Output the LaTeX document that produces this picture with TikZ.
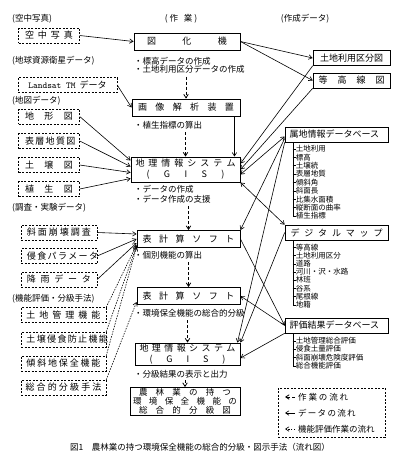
\documentclass[tikz,border=0pt]{standalone}
\usepackage{fontspec}
\newfontfamily\jp{Noto Sans CJK JP}
\usetikzlibrary{arrows.meta, positioning, calc}
\newcommand{\spaced}[2]{\makebox[#1][s]{#2}}
\tikzset{
    base/.style={font=\jp\fontsize{9}{11}\selectfont, inner sep=0pt, align=center},
    inbox/.style={base, draw, dash pattern=on 2pt off 1.5pt, minimum height=15pt},
    workbox/.style={base, draw, line width=0.9pt, minimum height=17pt},
    outbox/.style={base, draw, semithick, minimum height=15pt},
    head/.style={base, font=\jp\fontsize{8.5}{10}\selectfont},
    note/.style={head, anchor=west},
    item/.style={inner sep=0pt, anchor=west, font=\jp\fontsize{7.5}{8}\selectfont},
    flow/.style={-{Straight Barb[length=3.5pt,width=4.5pt]}, semithick},
    bothflow/.style={flow, {Straight Barb[length=3.5pt,width=4.5pt]}-{Straight Barb[length=3.5pt,width=4.5pt]}},
    stepflow/.style={flow, thick, dash pattern=on 3pt off 2pt},
    evalflow/.style={flow, dash pattern=on 1.5pt off 1.2pt}
}

\begin{document}
\begin{tikzpicture}[x=1pt, y=1pt]
    \useasboundingbox (0,0) rectangle (400,-466);

    % input data
    \node (h_air) [note] at (12,-19) {(空中写真)};
    \node (b_air) [inbox, minimum width=61pt] at (49,-35.5) {\spaced{48pt}{空 中 写 真}};
    \node (h_sat) [note] at (12,-61) {(地球資源衛星データ)};
    \node (b_sat) [inbox, minimum width=99pt] at (67.5,-85) {{\ttfamily Landsat TM}\ \ データ};
    \node (h_map) [note] at (12,-101) {(地図データ)};
    \node (b_topo) [inbox, minimum width=61pt] at (49,-116.5) {\spaced{48pt}{地 形 図}};
    \node (b_geol) [inbox, minimum width=61pt] at (49,-141) {\spaced{48pt}{表 層 地 質 図}};
    \node (b_soil) [inbox, minimum width=61pt] at (49,-165) {\spaced{48pt}{土 壌 図}};
    \node (b_veg) [inbox, minimum width=61pt] at (49,-189) {\spaced{48pt}{植 生 図}};
    \node (h_svy) [note] at (12,-208) {(調査・実験データ)};
    \node (b_slide) [inbox, minimum width=76pt] at (59,-232.5) {\spaced{64pt}{斜 面 崩 壊 調 査}};
    \node (b_erop) [inbox, minimum width=76pt] at (59,-256) {\spaced{64pt}{侵 食 パ ラ メ ー タ}};
    \node (b_rain) [inbox, minimum width=76pt] at (59,-279.5) {\spaced{64pt}{降 雨 デ ー タ}};
    \node (h_eval) [note] at (12,-299) {(機能評価・分級手法)};
    \node (b_land) [inbox, minimum width=85pt] at (63.5,-315) {\spaced{74pt}{土 地 管 理 機 能}};
    \node (b_soilp) [inbox, minimum width=85pt] at (63.5,-339.5) {\spaced{74pt}{土 壌 侵 食 防 止 機 能}};
    \node (b_slopep) [inbox, minimum width=85pt] at (63.5,-363.5) {\spaced{74pt}{傾 斜 地 保 全 機 能}};
    \node (b_total) [inbox, minimum width=85pt] at (63.5,-387.5) {\spaced{76pt}{総 合 的 分 級 手 法}};

    % work
    \node (h_work) [head] at (181,-19) {(\ 作\ \ \ 業\ )};
    \node (b_plot) [workbox, minimum width=106pt] at (187,-41.5) {\spaced{80pt}{図 化 機}};
    \node (n_elev) [note] at (134,-61) {・標高データの作成};
    \node (n_lu) [note] at (134,-69.5) {・土地利用区分データの作成};
    \node (b_img) [workbox, minimum width=108pt] at (186,-107.5) {\spaced{96pt}{画 像 解 析 装 置}};
    \node (n_ndvi) [note] at (134,-125) {・植生指標の算出};
    \node (b_gis1) [workbox, minimum width=109pt, minimum height=25pt] at (185.5,-169.5)
        {\spaced{100pt}{地 理 情 報 シ ス テ ム}\\ \spaced{78pt}{( G I S )}};
    \node (n_make) [note] at (134,-189.5) {・データの作成};
    \node (n_help) [note] at (134,-199) {・データ作成の支援};
    \node (b_calc1) [workbox, minimum width=103pt] at (188.5,-239) {\spaced{92pt}{表 計 算 ソ フ ト}};
    \node (n_each) [note] at (134,-255) {・個別機能の算出};
    \node (b_calc2) [workbox, minimum width=103pt] at (188.5,-296) {\spaced{92pt}{表 計 算 ソ フ ト}};
    \node (n_grade) [note] at (134,-313) {・環境保全機能の総合的分級};
    \node (b_gis2) [workbox, minimum width=105pt, minimum height=22pt] at (187.5,-354)
        {\spaced{96pt}{地 理 情 報 シ ス テ ム}\\ \spaced{76pt}{( G I S )}};
    \node (n_out) [note] at (134,-374) {・分級結果の表示と出力};
    \node (b_final) [workbox, minimum width=110pt, minimum height=28pt, font=\jp\fontsize{8.5}{8.8}\selectfont] at (185,-401.5)
        {\spaced{92pt}{農 林 業 の 持 つ}\\ \spaced{104pt}{環 境 保 全 機 能 の}\\ \spaced{92pt}{総 合 的 分 級 図}};

    % output data
    \node (h_out) [head] at (305,-19) {(作成データ)};
    \node (b_lu) [outbox, minimum width=77pt] at (351.5,-58) {土地利用区分図};
    \node (b_cont) [outbox, minimum width=77pt] at (351.5,-80.5) {\spaced{66pt}{等 高 線 図}};
    \node (b_db1) [outbox, minimum width=103pt] at (336.5,-134.5) {\spaced{94pt}{属地情報データベース}};
    \node (b_dmap) [outbox, minimum width=103pt] at (336.5,-232.5) {\spaced{92pt}{デ ジ タ ル マ ッ プ}};
    \node (b_db2) [outbox, minimum width=103pt] at (336.5,-325.5) {\spaced{94pt}{評価結果データベース}};

    % item lists
    \coordinate (t1) at ([xshift=8pt]b_db1.south west);
    \foreach \t [count=\i] in {土地利用, 標高, 土壌統, 表層地質, 傾斜角, 斜面長, 比集水面積, 縦断面の曲率, 植生指標}
        \node (a\i) [item] at ($(t1)+(3,{-6.5-8.4*(\i-1)})$) {\t};
    \draw (t1) |- (a9.west);
    \foreach \i in {1,...,8} \draw (t1 |- a\i.west) -- (a\i.west);

    \coordinate (t2) at ([xshift=8pt]b_dmap.south west);
    \foreach \t [count=\i] in {等高線, 土地利用区分, 道路, 河川・沢・水路, 林班, 谷系, 尾根線, 地籍}
        \node (d\i) [item] at ($(t2)+(3,{-7-8.2*(\i-1)})$) {\t};
    \draw (t2) |- (d8.west);
    \foreach \i in {1,...,7} \draw (t2 |- d\i.west) -- (d\i.west);

    \coordinate (t3) at ([xshift=8pt]b_db2.south west);
    \foreach \t [count=\i] in {土地管理総合評価, 侵食土量評価, 斜面崩壊危険度評価, 総合機能評価}
        \node (e\i) [item] at ($(t3)+(3,{-7.5-8.3*(\i-1)})$) {\t};
    \draw (t3) |- (e4.west);
    \foreach \i in {1,...,3} \draw (t3 |- e\i.west) -- (e\i.west);

    % work steps
    \draw [stepflow] ([yshift=-3pt]n_lu.south -| b_img.north) -- (b_img.north);
    \draw [stepflow] ([yshift=-3pt]n_ndvi.south -| b_gis1.north) -- (b_gis1.north);
    \draw [stepflow] ([yshift=-3pt]n_help.south -| b_calc1.north) -- (b_calc1.north);
    \draw [stepflow] ([yshift=-3pt]n_each.south -| b_calc2.north) -- (b_calc2.north);
    \draw [stepflow] ([yshift=-3pt]n_grade.south -| b_gis2.north) -- (b_gis2.north);
    \draw [stepflow] ([yshift=-2pt]n_out.south -| b_final.north) -- (b_final.north);

    % data from the left
    \draw [flow] (b_air.east) -- (b_plot.west);
    \draw [flow] (b_sat.east) -- (b_img.west);
    \draw [flow] ([xshift=-6pt]b_img.south east) -- ([xshift=-6pt]b_img.south east |- b_gis1.north);
    \draw [flow] (b_topo.east) -- ([yshift=9pt]b_gis1.west);
    \draw [flow] (b_geol.east) -- ([yshift=3pt]b_gis1.west);
    \draw [flow] (b_soil.east) -- ([yshift=-3pt]b_gis1.west);
    \draw [flow] (b_veg.east) -- ([yshift=-9pt]b_gis1.west);
    \draw [flow] (b_slide.east) -- ([yshift=5pt]b_calc1.west);
    \draw [flow] (b_erop.east) -- ([yshift=0pt]b_calc1.west);
    \draw [flow] (b_rain.east) -- ([yshift=-4pt]b_calc1.west);
    \draw [evalflow] (b_land.north east) -- ([yshift=-6pt]b_calc1.west);
    \draw [evalflow] (b_soilp.north east) -- ([yshift=-7pt]b_calc1.west);
    \draw [evalflow] (b_slopep.north east) -- ([yshift=-8pt]b_calc1.west);
    \draw [evalflow] (b_total.north east) -- ([yshift=-6pt]b_calc2.west);

    % data to the right
    \draw [flow] (b_plot.east) -- (b_lu.west);
    \draw [flow] (b_plot.east) -- (b_cont.west);
    \draw [flow] (b_lu.south west) -- ([yshift=6pt]b_gis1.east);
    \draw [flow] (b_cont.south west) -- ([yshift=0pt]b_gis1.east);
    \draw [bothflow] ([yshift=-5pt]b_gis1.east) -- ([yshift=-2pt]b_db1.west);
    \draw [bothflow] (b_gis1.south east) -- (b_dmap.north west);
    \draw [flow] ([yshift=-4pt]b_db1.west) -- (b_calc1.north east);
    \draw [flow] (b_db1.south west) -- ([xshift=-3pt]b_gis2.north east);
    \draw [flow] (b_dmap.west) -- (b_gis2.north east);
    \draw [flow] (b_calc1.east) -- (b_db2.west);
    \draw [flow] (b_db2.west) -- (b_calc2.east);
    \draw [flow] (b_db2.south west) -- ([yshift=-4pt]b_gis2.east);

    % legend
    \node (legend) [draw, dash pattern=on 2pt off 1.5pt, minimum width=107pt, minimum height=49pt] at (331.5,-412.5) {};
    \node (l_work) [note] at (298,-397) {\spaced{50pt}{作 業 の 流 れ}};
    \node (l_data) [note] at (298,-413) {\spaced{52pt}{デ ー タ の 流 れ}};
    \node (l_eval) [note] at (298,-429) {機能評価作業の流れ};
    \draw [stepflow] ([xshift=-3pt]l_work.west) -- ++(-10,0);
    \draw [flow] ([xshift=-3pt]l_data.west) -- ++(-10,0);
    \draw [evalflow] ([xshift=-3pt]l_eval.west) -- ++(-10,0);

    % caption
    \node (caption) [head, font=\jp\fontsize{8.5}{10}\selectfont] at (200,-447)
        {図1\quad 農林業の持つ環境保全機能の総合的分級・図示手法（流れ図）};
\end{tikzpicture}
\end{document}
